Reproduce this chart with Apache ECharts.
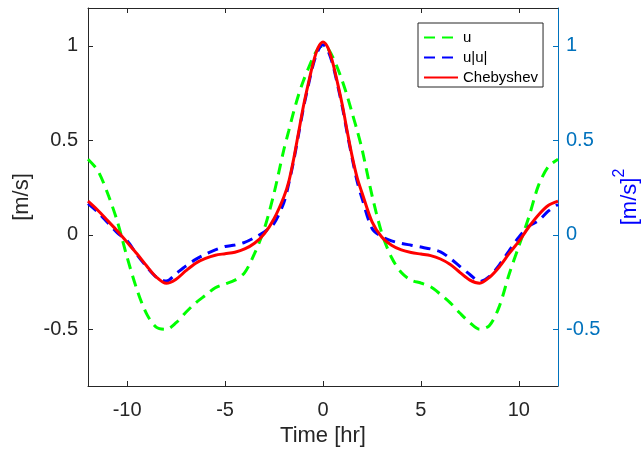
<!DOCTYPE html>
<html>
<head>
<meta charset="utf-8">
<script src="https://cdn.jsdelivr.net/npm/echarts@6/dist/echarts.min.js"></script>
<style>html,body{margin:0;padding:0;background:#fff}#c{width:644px;height:456px}</style>
</head>
<body>
<div id="c"></div>
<script>
var time = [-12,-11.5,-11,-10.5,-10,-9.5,-9,-8.5,-8,-7.5,-7,-6.5,-6,-5.5,-5,-4.5,-4,-3.5,-3,-2.5,-2,-1.75,-1.5,-1.25,-1,-0.75,-0.5,-0.25,0,0.25,0.5,0.75,1,1.25,1.5,1.75,2,2.5,3,3.5,4,4.5,5,5.5,6,6.5,7,7.5,8,8.5,9,9.5,10,10.5,11,11.5,12];
var u = [0.40,0.34,0.22,0.07,-0.12,-0.29,-0.42,-0.49,-0.50,-0.465,-0.41,-0.36,-0.32,-0.28,-0.26,-0.24,-0.20,-0.10,0.03,0.22,0.45,0.55,0.65,0.74,0.815,0.88,0.94,0.985,1.0,0.985,0.94,0.88,0.81,0.73,0.64,0.55,0.45,0.21,0.01,-0.12,-0.20,-0.24,-0.255,-0.275,-0.315,-0.36,-0.415,-0.465,-0.50,-0.48,-0.38,-0.21,-0.06,0.09,0.26,0.36,0.40];
var uabs = [0.165,0.12,0.065,0.01,-0.032,-0.105,-0.17,-0.225,-0.245,-0.205,-0.165,-0.13,-0.103,-0.08,-0.062,-0.054,-0.04,-0.015,0.015,0.06,0.17,0.27,0.39,0.53,0.67,0.79,0.90,0.975,1.005,0.975,0.90,0.79,0.67,0.53,0.40,0.28,0.19,0.035,-0.01,-0.032,-0.045,-0.055,-0.065,-0.075,-0.09,-0.125,-0.168,-0.21,-0.247,-0.22,-0.16,-0.085,-0.012,0.045,0.075,0.125,0.16];
var cheb = [0.178,0.13,0.075,0.02,-0.04,-0.10,-0.165,-0.225,-0.257,-0.235,-0.19,-0.15,-0.125,-0.108,-0.10,-0.092,-0.075,-0.045,0.005,0.085,0.20,0.28,0.40,0.54,0.68,0.80,0.91,0.99,1.02,0.99,0.91,0.80,0.68,0.54,0.41,0.30,0.22,0.07,-0.012,-0.055,-0.08,-0.094,-0.102,-0.11,-0.128,-0.157,-0.20,-0.24,-0.256,-0.225,-0.17,-0.10,-0.035,0.04,0.105,0.155,0.178];
var xTicks = [-10,-5,0,5,10];
var yTicks = [-0.5,0,0.5,1];

function pairs(ys){ return time.map(function(t,i){ return [t, ys[i]]; }); }

var font = 'Liberation Sans';
var dark = '#262626';
var rblue = '#0072BD';
var chart = echarts.init(document.getElementById('c'));
chart.setOption({
  animation: false,
  textStyle: {fontFamily: font},
  grid: {left: 88, right: 86, top: 8, bottom: 70, outerBoundsMode: 'none', containLabel: false},
  legend: {
    orient: 'vertical', left: 418, top: 23,
    backgroundColor: '#fff', borderColor: dark, borderWidth: 1,
    padding: [7, 5, 2, 5], itemGap: 5, itemWidth: 34, itemHeight: 15,
    itemStyle: {opacity: 0},
    textStyle: {fontFamily: font, fontSize: 15, color: '#000'},
    data: ['u', 'u|u|', 'Chebyshev']
  },
  xAxis: [{
    type: 'value', min: -12, max: 12,
    name: 'Time [hr]', nameLocation: 'middle', nameGap: 34,
    nameTextStyle: {fontFamily: font, fontSize: 22, color: dark},
    axisLine: {show: true, onZero: false, lineStyle: {color: dark, width: 1}},
    axisTick: {show: true, inside: true, length: 5, customValues: xTicks, lineStyle: {color: dark}},
    axisLabel: {customValues: xTicks, fontFamily: font, fontSize: 20, color: dark, margin: 14},
    splitLine: {show: false}
  }, {
    type: 'value', min: -12, max: 12, position: 'top',
    axisLine: {show: true, onZero: false, lineStyle: {color: dark, width: 1}},
    axisTick: {show: true, inside: true, length: 5, customValues: xTicks, lineStyle: {color: dark}},
    axisLabel: {show: false},
    splitLine: {show: false}
  }],
  yAxis: [{
    type: 'value', min: -0.8, max: 1.2, position: 'left',
    name: '[m/s]', nameLocation: 'middle', nameGap: 54, nameRotate: 90,
    nameTextStyle: {fontFamily: font, fontSize: 22, color: dark},
    axisLine: {show: true, onZero: false, lineStyle: {color: dark, width: 1}},
    axisTick: {show: true, inside: true, length: 5, customValues: yTicks, lineStyle: {color: dark}},
    axisLabel: {customValues: yTicks, fontFamily: font, fontSize: 20, color: dark, margin: 10},
    splitLine: {show: false}
  }, {
    type: 'value', min: -0.8, max: 1.2, position: 'right',
    name: '{a|[m/s]}{b|2}', nameLocation: 'middle', nameGap: 52, nameRotate: 90,
    nameTextStyle: {fontFamily: font, fontSize: 22, color: '#0000FF',
      rich: {
        a: {fontFamily: font, fontSize: 22, color: '#0000FF', lineHeight: 30, verticalAlign: 'bottom'},
        b: {fontFamily: font, fontSize: 16, color: '#0000FF', lineHeight: 30, verticalAlign: 'top'}
      }},
    axisLine: {show: true, onZero: false, lineStyle: {color: rblue, width: 1}},
    axisTick: {show: true, inside: true, length: 5, customValues: yTicks, lineStyle: {color: rblue}},
    axisLabel: {customValues: yTicks, fontFamily: font, fontSize: 20, color: rblue, margin: 8},
    splitLine: {show: false}
  }],
  series: [{
    name: 'u', type: 'line', data: pairs(u), smooth: 0.3, symbol: 'none',
    itemStyle: {color: '#00FF00'},
    lineStyle: {color: '#00FF00', width: 3, type: [11, 7]}
  }, {
    name: 'u|u|', type: 'line', data: pairs(uabs), smooth: 0.3, symbol: 'none',
    itemStyle: {color: '#0000FF'},
    lineStyle: {color: '#0000FF', width: 3, type: [11, 7]}
  }, {
    name: 'Chebyshev', type: 'line', data: pairs(cheb), smooth: 0.3, symbol: 'none',
    itemStyle: {color: '#FF0000'},
    lineStyle: {color: '#FF0000', width: 3}
  }]
});
</script>
</body>
</html>
